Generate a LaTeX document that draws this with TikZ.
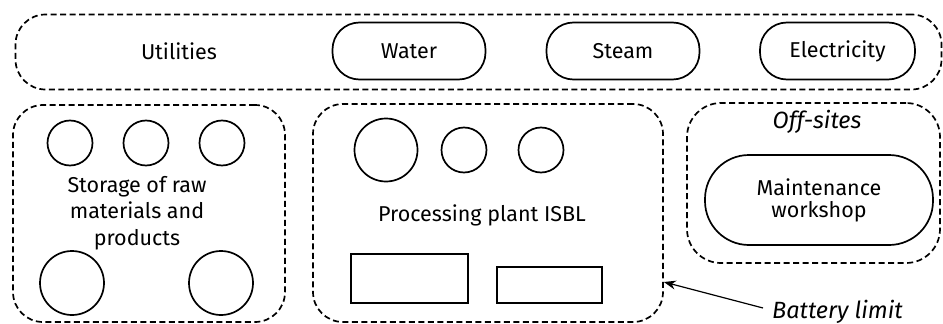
\documentclass[tikz,border=0pt]{standalone}
\usepackage{fontspec}
\setmainfont{Fira Sans}
\usetikzlibrary{arrows.meta}
\begin{document}
\begin{tikzpicture}[x=1pt,y=-1pt,
  area/.style={draw, line width=1.7pt, dash pattern=on 6pt off 3.5pt, rounded corners=#1, inner sep=0pt},
  area/.default=28pt,
  pill/.style={draw, line width=1.7pt, rounded corners=27pt, inner sep=0pt, minimum height=57pt, align=center},
  tank/.style={draw, line width=1.7pt, circle, inner sep=0pt, minimum size=#1},
  unit/.style={draw, line width=1.7pt, inner sep=0pt},
  lbl/.style={font=\fontsize{21.5}{26.5}\selectfont, align=center, inner sep=0pt},
  itlbl/.style={font=\fontsize{23.5}{26}\itshape, inner sep=0pt},
]
\useasboundingbox (0,0) rectangle (943,324);

% Utilities band
\node[area=30pt, minimum width=926pt, minimum height=75pt] (util) at (478.5,52) {};
\node[lbl] (utiltxt) at (179,51) {Utilities};
\node[pill, minimum width=153pt, font=\fontsize{21.5}{26}\selectfont] (water) at (409,51) {Water};
\node[pill, minimum width=153pt, font=\fontsize{21.5}{26}\selectfont] (steam) at (623,51) {Steam};
\node[pill, minimum width=155pt, font=\fontsize{21.5}{26}\selectfont] (elec) at (837.5,51) {Electricity};

% Storage area
\node[area=30pt, minimum width=272pt, minimum height=217pt] (store) at (149,213.5) {};
\node[tank=45pt] (s1) at (70,143) {};
\node[tank=45pt] (s2) at (146,143) {};
\node[tank=45pt] (s3) at (222,143) {};
\node[tank=64pt] (s4) at (72,283) {};
\node[tank=64pt] (s5) at (221,283) {};
\node[lbl] (storetxt) at (137,213) {Storage of raw\\materials and\\products};

% Processing plant
\node[area=30pt, minimum width=350pt, minimum height=218pt] (isbl) at (488,213) {};
\node[tank=63pt] (p1) at (386,150) {};
\node[tank=45pt] (p2) at (464,150) {};
\node[tank=45pt] (p3) at (541,150) {};
\node[lbl] (isbltxt) at (482,215) {Processing plant ISBL};
\node[unit, minimum width=117pt, minimum height=49pt] (r1) at (409.5,278.5) {};
\node[unit, minimum width=105pt, minimum height=36pt] (r2) at (549.5,285) {};

% Off-sites
\node[area=34pt, minimum width=253pt, minimum height=160pt] (off) at (813.5,183) {};
\node[itlbl] (offtxt) at (817,122) {Off-sites};
\node[pill, rounded corners=44pt, minimum width=228pt, minimum height=90pt, font=\fontsize{21.5}{22}\selectfont] (maint) at (819,200) {Maintenance\\workshop};

% Battery limit pointer
\node[itlbl, anchor=west] (battery) at (772,312) {Battery limit};
\coordinate (btail) at (763,308);
\draw[line width=1.2pt, -{Stealth[length=12pt,width=9pt]}] (btail) -- (isbl.east |- 0,282);
\end{tikzpicture}
\end{document}
